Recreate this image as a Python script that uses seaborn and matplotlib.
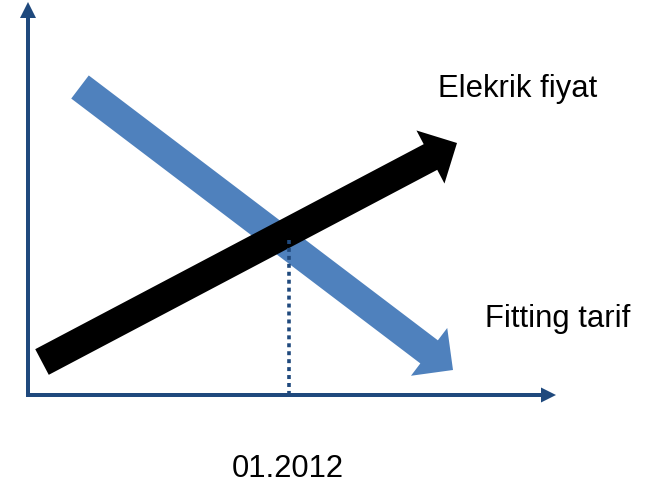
import pandas as pd
import matplotlib.pyplot as plt
import seaborn as sns
from matplotlib.patches import FancyArrow

sns.set_theme(style="white")
plt.rcParams["font.family"] = ["Liberation Sans", "DejaVu Sans"]

# diagram coordinates in pixels of a 652x485 canvas (y grows downward)
axis_origin = (28, 396)
y_axis_top = 3
x_axis_right = 556

tariff_tail = (80, 88)       # Fitting tarif (falling)
tariff_tip = (453, 371)
price_tail = (42, 363)       # Elekrik fiyat (rising)
price_tip = (457, 144)

cross_x = [289, 289]         # 01.2012 marker
cross_y = [241, 395]

labels = ["Elekrik fiyat", "Fitting tarif", "01.2012"]
label_pos = [(438, 97), (485, 327), (232, 477)]

AXIS_COLOR = "#1F497D"
TARIFF_COLOR = "#4F81BD"
PRICE_COLOR = "#000000"

fig = plt.figure(figsize=(6.52, 4.85), dpi=100)
ax = fig.add_axes([0, 0, 1, 1])


def draw_arrow(tail, tip, color, width, head_w, head_l):
    arr = FancyArrow(tail[0], tail[1], tip[0] - tail[0], tip[1] - tail[1],
                     width=width, head_width=head_w, head_length=head_l,
                     length_includes_head=True, color=color, lw=0)
    ax.add_patch(arr)


# dotted marker line
df = pd.DataFrame({"x": cross_x, "y": cross_y})
sns.lineplot(data=df, x="x", y="y", estimator=None, sort=False, ax=ax,
             color=AXIS_COLOR, lw=2.6, linestyle=(0, (1.1, 1.1)))
ax.set_xlim(0, 652)
ax.set_ylim(485, 0)
ax.set_axis_off()

# axes
draw_arrow((axis_origin[0], axis_origin[1] + 2), (axis_origin[0], y_axis_top),
           AXIS_COLOR, 4, 16, 16)
draw_arrow((axis_origin[0] - 2, axis_origin[1]), (x_axis_right, axis_origin[1]),
           AXIS_COLOR, 4, 15, 15)

# trend arrows
draw_arrow(tariff_tail, tariff_tip, TARIFF_COLOR, 29, 60, 30)
draw_arrow(price_tail, price_tip, PRICE_COLOR, 29, 60, 30)

for text, (x, y) in zip(labels, label_pos):
    ax.text(x, y, text, fontsize=22.3, ha="left", va="baseline", color="black")

fig.savefig("out.png", dpi=100)
